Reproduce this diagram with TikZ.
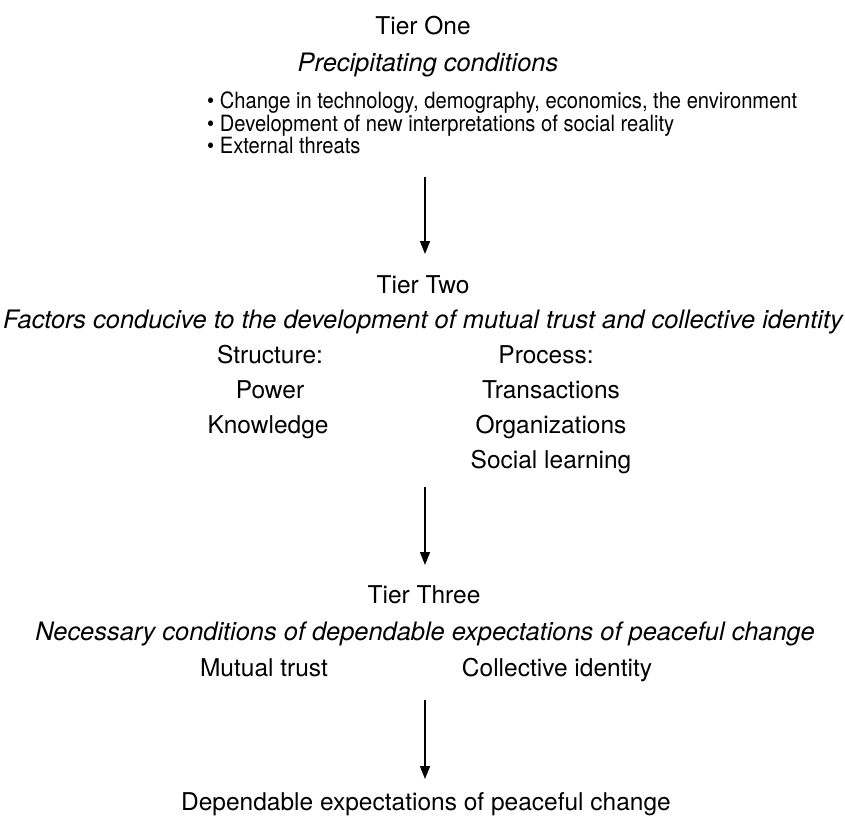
\documentclass[tikz,border=0pt]{standalone}
\usepackage{fontspec}
\setmainfont{TeX Gyre Heros}
\newfontfamily\bulfont{TeX Gyre Heros}[FakeStretch=0.9]
\usetikzlibrary{arrows.meta}
\begin{document}
\begin{tikzpicture}[x=1pt,y=-1pt,
  txt/.style={anchor=base,inner sep=0pt,font=\fontsize{24.5}{28}\selectfont},
  itx/.style={anchor=base,inner sep=0pt,font=\fontsize{25.4}{28}\selectfont\itshape},
  bul/.style={anchor=base west,inner sep=0pt,font=\bulfont\fontsize{22.4}{24}\selectfont},
  arr/.style={line width=1.4pt,-{Triangle[width=10pt,length=13pt]}}]
\useasboundingbox (0,0) rectangle (845,816);
% Tier one
\node[txt] (t1) at (423,35) {Tier One};
\node[itx] (t1s) at (428,71) {Precipitating conditions};
\node[bul] (b1) at (207,108) {\textbullet\ Change in technology, demography, economics, the environment};
\node[bul] (b2) at (207,131) {\textbullet\ Development of new interpretations of social reality};
\node[bul] (b3) at (207,153) {\textbullet\ External threats};
\coordinate (a1s) at (425,177);
\coordinate (a1e) at (425,254);
\draw[arr] (a1s) -- (a1e);
% Tier two
\node[txt] (t2) at (423,293) {Tier Two};
\node[itx] (t2s) at (423,328) {Factors conducive to the development of mutual trust and collective identity};
\node[txt] (st) at (270,363) {Structure:};
\node[txt] (pr) at (546,363) {Process:};
\node[txt] (pw) at (270,398) {Power};
\node[txt] (tr) at (551,398) {Transactions};
\node[txt] (kn) at (268,433) {Knowledge};
\node[txt] (or) at (551,433) {Organizations};
\node[txt] (sl) at (551,468) {Social learning};
\coordinate (a2s) at (425,487);
\coordinate (a2e) at (425,565);
\draw[arr] (a2s) -- (a2e);
% Tier three
\node[txt] (t3) at (424,603) {Tier Three};
\node[itx] (t3s) at (425,640) {Necessary conditions of dependable expectations of peaceful change};
\node[txt] (mt) at (264,676) {Mutual trust};
\node[txt] (ci) at (557,676) {Collective identity};
\coordinate (a3s) at (425,700);
\coordinate (a3e) at (425,779);
\draw[arr] (a3s) -- (a3e);
\node[txt] (dep) at (426,810) {Dependable expectations of peaceful change};
\end{tikzpicture}
\end{document}
